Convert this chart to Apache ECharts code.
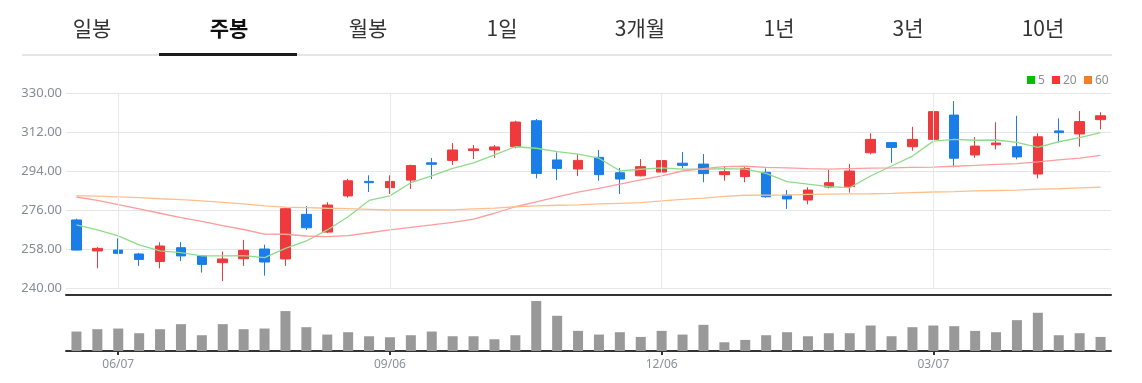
<!DOCTYPE html>
<html><head><meta charset="utf-8">
<script src="https://cdn.jsdelivr.net/npm/echarts@6/dist/echarts.min.js"></script>
<style>html,body{margin:0;padding:0;background:#fff}#c{width:1142px;height:383px}</style>
</head><body><div id="c"></div>
<script>
var tabs = ['일봉','주봉','월봉','1일','3개월','1년','3년','10년'];
var activeTab = '주봉';
var dates = ['05/24','05/31','06/07','06/14','06/21','06/28','07/05','07/12','07/19','07/26','08/02','08/09','08/16','08/23','08/30','09/06','09/13','09/20','09/27','10/04','10/11','10/18','10/25','11/01','11/08','11/15','11/22','11/29','12/06','12/13','12/20','12/27','01/03','01/10','01/17','01/24','01/31','02/07','02/14','02/21','02/28','03/07','03/14','03/21','03/28','04/04','04/11','04/18','04/25','05/02'];
var tickLabels = ['06/07','09/06','12/06','03/07'];
var yTicks = [240, 258, 276, 294, 312, 330];
// [open, close, low, high]
var ohlc = [
[271.4,257.5,257.3,272.0],[257.1,258.3,249.1,258.9],[257.5,256.0,255.6,262.9],[255.7,253.2,250.2,256.2],
[252.2,259.4,249.1,261.1],[258.6,254.8,252.5,261.2],[254.8,250.9,247.1,255.1],[251.7,253.4,243.2,256.8],
[253.5,257.4,250.2,262.2],[258.0,252.0,245.7,260.0],[253.4,276.6,250.2,277.1],[274.0,267.8,266.8,277.8],
[265.8,278.3,265.4,279.6],[282.5,289.5,281.7,290.4],[289.2,288.6,284.3,292.0],[286.3,289.2,283.4,292.0],
[289.8,296.5,285.7,296.9],[297.8,297.1,290.3,300.0],[298.9,303.7,296.8,306.9],[303.4,304.2,299.5,306.0],
[303.7,305.1,300.1,306.0],[305.2,316.6,304.5,317.2],[317.2,292.9,290.6,318.0],[299.1,295.2,289.8,302.6],
[294.9,298.9,291.7,301.7],[300.3,292.3,289.5,303.7],[293.2,290.3,283.4,295.4],[291.8,296.0,291.5,299.5],
[293.5,298.8,290.6,303.7],[297.6,296.6,295.2,302.8],[297.2,292.8,288.8,301.8],[292.3,293.7,289.5,296.3],
[291.4,295.1,288.8,296.0],[293.4,282.1,281.7,295.2],[282.9,281.1,276.5,285.2],[280.6,285.2,278.6,286.5],
[286.6,288.6,286.0,294.5],[286.8,294.0,284.0,297.2],[302.4,308.6,301.7,311.4],[307.1,304.9,297.8,307.3],
[305.2,308.6,303.4,314.4],[308.6,321.4,302.6,322.9],[319.8,299.9,295.7,326.3],[301.4,305.5,300.1,309.6],
[306.1,306.9,304.0,316.5],[305.2,300.5,299.4,319.5],[292.6,309.8,290.6,311.4],[312.5,311.7,307.1,318.3],
[311.1,316.8,305.2,321.7],[317.7,319.5,313.2,321.1]
];
var ma5 = [269.1,266.8,264.1,259.9,257.1,256.3,254.8,254.8,254.9,254.0,258.3,261.7,266.8,272.9,280.4,282.5,288.6,291.7,295.2,297.8,301.4,305.2,304.5,302.9,301.8,299.9,294.1,294.8,295.4,294.9,294.8,295.1,294.9,292.9,289.1,287.9,286.8,286.3,291.7,296.3,300.9,307.8,308.6,308.2,308.3,307.2,304.9,307.5,309.4,311.7];
var ma20 = [282.0,280.4,278.5,276.5,274.5,272.5,270.8,268.8,267.0,264.9,264.8,264.0,263.7,264.2,265.5,266.8,268.0,269.1,270.3,271.8,274.5,277.5,279.8,282.1,284.2,286.0,287.9,289.9,291.7,294.0,295.1,296.0,296.2,295.7,295.4,295.1,294.9,295.1,295.3,295.4,295.7,295.8,296.2,296.6,297.1,297.4,298.2,299.1,299.9,301.2];
var ma60 = [282.6,282.4,282.1,281.7,281.2,280.8,280.2,279.5,278.8,277.9,277.3,277.1,276.8,276.6,276.3,276.0,276.0,276.0,276.1,276.5,276.9,277.5,277.9,278.2,278.4,278.8,279.1,279.4,280.2,280.9,281.5,282.3,282.8,282.9,282.9,283.2,283.3,283.4,283.5,283.7,284.0,284.3,284.5,284.8,285.0,285.2,285.6,285.8,286.2,286.5];
var volume = [58,65,67,53,65,80,47,80,65,67,119,71,49,56,44,41,47,58,44,44,35,47,149,105,60,49,56,42,60,49,78,26,33,47,56,44,53,53,76,44,71,76,74,60,56,92,114,47,53,42];
var legendItems = ['5','20','60'];

var UP = '#ef3a3d', DOWN = '#1a7de8';
var tabX = [92,229,368,502,640,779,908,1043];
var graphics = [];
tabs.forEach(function(t,i){
  var act = t === activeTab;
  graphics.push({type:'text', style:{text:t, x:tabX[i], y:28, textAlign:'center', textVerticalAlign:'middle',
    fill: act ? '#111' : '#333', font:(act?'bold ':'')+'21px "Noto Sans CJK KR", "Noto Sans", sans-serif'}});
});
graphics.push({type:'rect', shape:{x:22,y:54,width:1090,height:2}, style:{fill:'#e6e6e6'}});
graphics.push({type:'rect', shape:{x:159,y:53,width:138,height:3}, style:{fill:'#1c1c1c'}});
var legCols = ['#00c000','#ff3333','#f08020'];
var legX = [1027,1052,1084];
legendItems.forEach(function(t,i){
  graphics.push({type:'rect', shape:{x:legX[i],y:76,width:8,height:8}, style:{fill:legCols[i]}});
  graphics.push({type:'text', style:{text:t, x:legX[i]+11, y:80.5, textVerticalAlign:'middle', fill:'#8a8f99', font:'12px "Noto Sans", sans-serif'}});
});

var showIdx = function(i){ return tickLabels.indexOf(dates[i]) >= 0; };
var chart = echarts.init(document.getElementById('c'));
chart.setOption({
  animation:false,
  graphic: graphics,
  grid:[{left:66, right:31, top:93, height:195},{left:66, right:31, top:296, height:55}],
  xAxis:[
    {type:'category', gridIndex:0, data:dates, boundaryGap:true, offset:7,
     axisLine:{show:true, lineStyle:{color:'#333', width:2}}, axisTick:{show:false}, axisLabel:{show:false}, splitLine:{show:false}},
    {type:'category', gridIndex:1, data:dates, boundaryGap:true,
     axisLine:{show:true, lineStyle:{color:'#333', width:2}},
     axisTick:{show:true, alignWithLabel:true, interval:function(i){return showIdx(i);}, length:4, lineStyle:{color:'#333', width:2}},
     axisLabel:{show:true, interval:function(i){return showIdx(i);}, color:'#8a8f99', fontSize:12, margin:8, fontFamily:'"Noto Sans", sans-serif'},
     splitLine:{show:false}}
  ],
  yAxis:[
    {type:'value', gridIndex:0, min:yTicks[0], max:yTicks[yTicks.length-1], interval:18,
     axisLine:{show:false}, axisTick:{show:false},
     axisLabel:{color:'#868b95', fontSize:13, margin:4, fontFamily:'"Noto Sans", sans-serif', formatter:function(v){return v.toFixed(2);}},
     splitLine:{lineStyle:{color:'#e6e6e6', width:1}}},
    {type:'value', gridIndex:1, min:0, max:164, show:false, splitLine:{show:false}}
  ],
  series:[
    {type:'candlestick', xAxisIndex:0, yAxisIndex:0, data:ohlc, barWidth:10,
     itemStyle:{color:UP, color0:DOWN, borderColor:UP, borderColor0:DOWN, borderWidth:1},
     markLine:{silent:true, symbol:['none','none'], label:{show:false},
       lineStyle:{color:'#e8e8e8', width:1, type:'solid'},
       data: tickLabels.map(function(d){return {xAxis:d};})}},
    {type:'line', xAxisIndex:0, yAxisIndex:0, data:ma5, showSymbol:false, symbol:'none', lineStyle:{color:'#8edc8a', width:1.3}, z:3},
    {type:'line', xAxisIndex:0, yAxisIndex:0, data:ma20, showSymbol:false, symbol:'none', lineStyle:{color:'#ff9c9c', width:1.3}, z:3},
    {type:'line', xAxisIndex:0, yAxisIndex:0, data:ma60, showSymbol:false, symbol:'none', lineStyle:{color:'#ffbf8c', width:1.3}, z:3},
    {type:'bar', xAxisIndex:1, yAxisIndex:1, data:volume, barWidth:10, itemStyle:{color:'#999999'}}
  ]
});
</script></body></html>
